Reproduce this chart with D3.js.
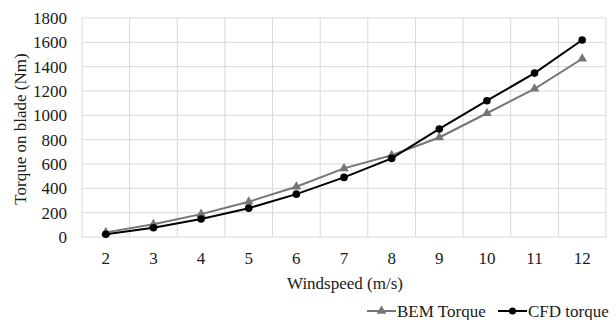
<!DOCTYPE html>
<html><head><meta charset="utf-8">
<script src="https://cdn.jsdelivr.net/npm/d3@7"></script>
<style>body{margin:0;background:#fff}</style>
</head><body><svg id="c" width="616" height="320"></svg>
<script>
const categories = ["2","3","4","5","6","7","8","9","10","11","12"];
const bemTorque = [38,105,188,290,413,564,672,818,1017,1218,1465];
const cfdTorque = [22,76,148,237,352,490,646,888,1120,1347,1619];
const yTicks = [0,200,400,600,800,1000,1200,1400,1600,1800];

const svg = d3.select("#c");
const m = {l:82, r:606, t:18, b:237};
const x = d3.scaleBand().domain(categories).range([m.l, m.r]);
const y = d3.scaleLinear().domain([0,1800]).range([m.b, m.t]);
const cx = d => x(d) + x.bandwidth()/2;

// grid
const g = svg.append("g");
g.selectAll(".hg").data(yTicks).join("line")
  .attr("x1", m.l).attr("x2", m.r).attr("y1", d=>y(d)).attr("y2", d=>y(d))
  .attr("stroke", "#d9d9d9").attr("stroke-width", 1);
const vb = categories.map(c=>x(c)).concat([m.r]);
g.selectAll(".vg").data(vb).join("line")
  .attr("x1", d=>d).attr("x2", d=>d).attr("y1", m.t).attr("y2", m.b)
  .attr("stroke", "#d9d9d9").attr("stroke-width", 1);

function txt(sel){ return sel.style("font-family", "Liberation Serif").attr("fill","#1a1a1a").attr("font-size",17); }

// y axis labels
txt(svg.append("g").selectAll("text").data(yTicks).join("text")
  .attr("x", m.l - 15).attr("y", d=>y(d)).attr("dy","0.35em")
  .attr("text-anchor","end")).text(d=>d);
// x labels
txt(svg.append("g").selectAll("text").data(categories).join("text")
  .attr("x", d=>cx(d)).attr("y", 258).attr("dy","0.35em")
  .attr("text-anchor","middle")).text(d=>d);

txt(svg.append("text").attr("x", 345).attr("y", 283).attr("dy","0.35em")
  .attr("text-anchor","middle")).text("Windspeed (m/s)");
txt(svg.append("text").attr("transform","translate(20,129) rotate(-90)")
  .attr("dy","0.35em").attr("text-anchor","middle")).text("Torque on blade (Nm)");

const line = d3.line().x((d,i)=>cx(categories[i])).y(d=>y(d));
const tri = d3.symbol().type(d3.symbolTriangle).size(40);

svg.append("path").datum(bemTorque).attr("d", line).attr("fill","none")
  .attr("stroke","#767676").attr("stroke-width",2);
svg.append("g").selectAll("path").data(bemTorque).join("path")
  .attr("d", tri).attr("transform",(d,i)=>`translate(${cx(categories[i])},${y(d)})`)
  .attr("fill","#767676");

svg.append("path").datum(cfdTorque).attr("d", line).attr("fill","none")
  .attr("stroke","#000").attr("stroke-width",2);
svg.append("g").selectAll("circle").data(cfdTorque).join("circle")
  .attr("cx",(d,i)=>cx(categories[i])).attr("cy", d=>y(d)).attr("r",3.8)
  .attr("fill","#000");

// legend
const ly = 311;
const lg = svg.append("g");
lg.append("line").attr("x1",367).attr("x2",396).attr("y1",ly).attr("y2",ly).attr("stroke","#767676").attr("stroke-width",2);
lg.append("path").attr("d", tri).attr("transform",`translate(381.5,${ly})`).attr("fill","#767676");
txt(lg.append("text").attr("x",397).attr("y",ly).attr("dy","0.35em")).text("BEM Torque");
lg.append("line").attr("x1",498).attr("x2",527).attr("y1",ly).attr("y2",ly).attr("stroke","#000").attr("stroke-width",2);
lg.append("circle").attr("cx",512.5).attr("cy",ly).attr("r",3.5).attr("fill","#000");
txt(lg.append("text").attr("x",528).attr("y",ly).attr("dy","0.35em")).text("CFD torque");
</script></body></html>
